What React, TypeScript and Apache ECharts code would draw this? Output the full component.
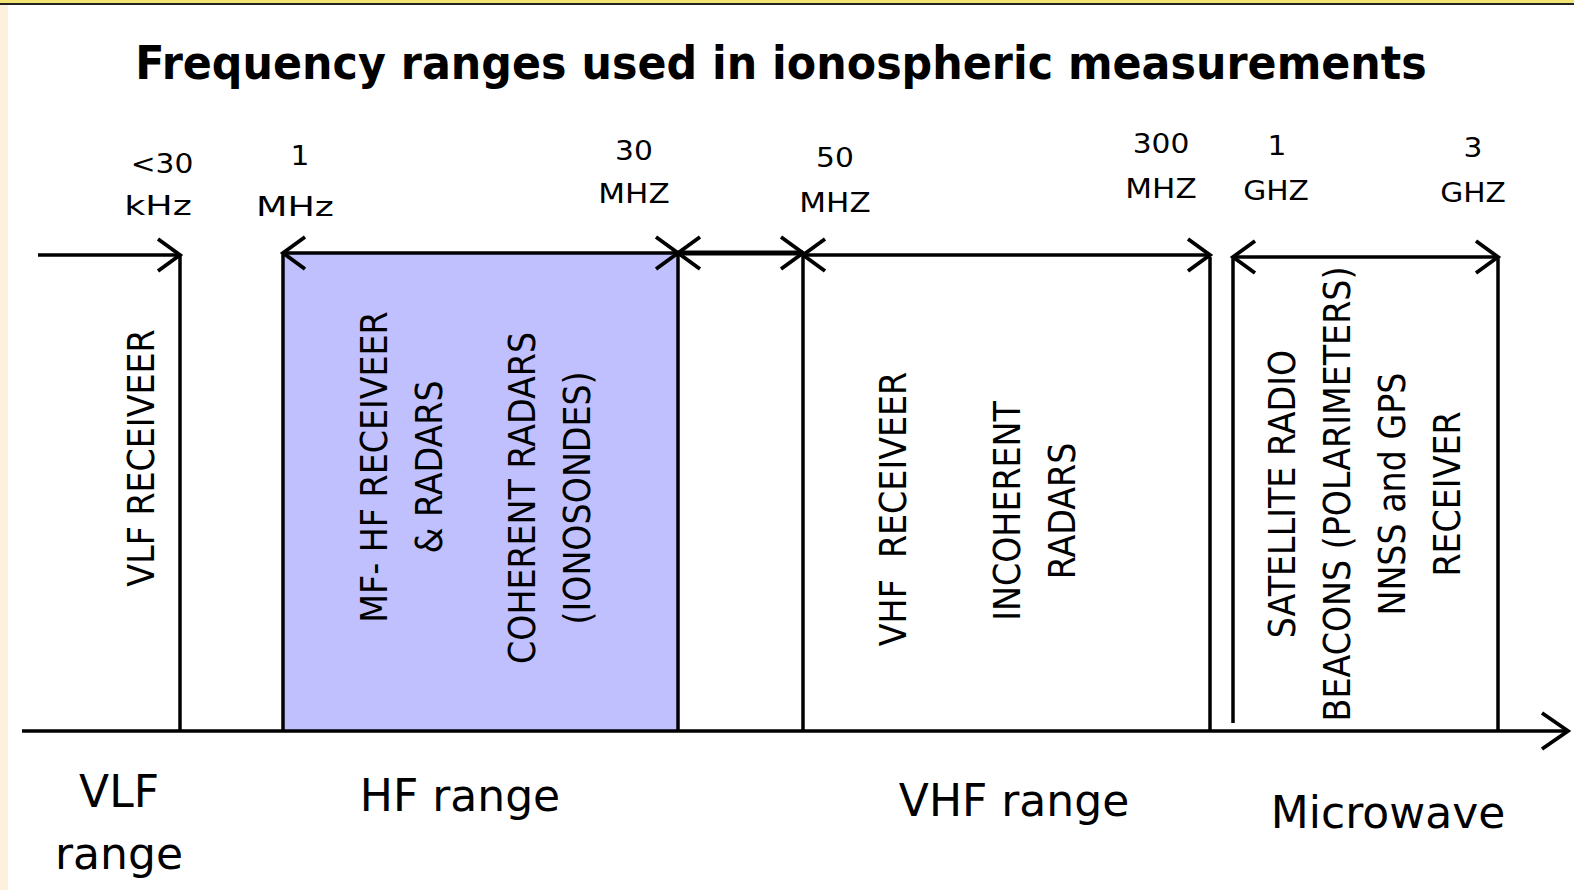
import React, { useEffect, useRef } from "react";
import * as echarts from "echarts";

const W = 1574;
const H = 890;

// ---- data: frequency markers on the (schematic) frequency axis ----
const markerValues = ["<30", "1", "30", "50", "300", "1", "3"];
const markerUnits = ["kHz", "MHz", "MHZ", "MHZ", "MHZ", "GHZ", "GHZ"];
const markerPos = [180, 283, 678, 803, 1210, 1233, 1498];

// ---- data: measurement spans (arrows between markers) ----
const spanStart = [38, 283, 678, 803, 1233];
const spanEnd = [180, 678, 803, 1210, 1498];
const spanStartHead = [false, true, true, true, true];
const spanEndHead = [true, true, true, true, true];

// ---- data: highlighted band ----
const bandStart = [283];
const bandEnd = [678];

// ---- data: instrument descriptions (vertical texts) ----
const instrumentTexts = [
  "VLF RECEIVEER",
  "MF- HF RECEIVEER\n& RADARS",
  "COHERENT RADARS\n(IONOSONDES)",
  "VHF  RECEIVEER",
  "INCOHERENT\nRADARS",
  "SATELLITE RADIO\nBEACONS (POLARIMETERS)\nNNSS and GPS\nRECEIVER",
];

// ---- data: range names ----
const rangeLabels = ["VLF\nrange", "HF range", "VHF range", "Microwave"];

const titleText = "Frequency ranges used in ionospheric measurements";

// ---- layout (positions / sizes) ----
const AXIS_Y = 731;
const AXIS_X0 = 22;
const AXIS_X1 = 1568;
const BAND_TOP = 253;
const HEAD_L = 22;
const HEAD_W = 16;
const LINE_W = 3.5;
const spanY = [255, 253, 253, 255, 257];
const spanWidth = [3.5, 3.5, 5, 3.5, 3.5];
const markerTop = [255, 253, 253, 253, 257, 257, 257];
const markerBottom = [731, 731, 731, 731, 731, 723, 731];
const valueXY = [
  [162, 164],
  [300, 156],
  [634, 151],
  [835, 158],
  [1161, 144],
  [1277, 146],
  [1473, 148],
];
const unitXY = [
  [158, 206],
  [295, 207],
  [634, 194],
  [835, 203],
  [1161, 189],
  [1276, 191],
  [1473, 193],
];
const unitScale = [1.35, 1.35, 1.15, 1.15, 1.15, 1.1, 1.1];
const instrumentXY = [
  [141, 458],
  [401, 467],
  [549, 498],
  [893, 509],
  [1034, 511],
  [1364, 494],
];
const rangeXY = [
  [119, 822],
  [460, 795],
  [1014, 800],
  [1388, 812],
];

const FONT = "'DejaVu Sans', 'Noto Sans', sans-serif";
const INK = "#000000";

function txt(
  text: string,
  x: number,
  y: number,
  size: number,
  extra: any = {},
  styleExtra: any = {}
) {
  return {
    type: "text",
    x,
    y,
    z: 100,
    silent: true,
    ...extra,
    style: {
      text,
      fill: INK,
      fontSize: size,
      fontFamily: FONT,
      align: "center",
      textAlign: "center",
      verticalAlign: "middle",
      textVerticalAlign: "middle",
      ...styleExtra,
    },
  };
}

export default function App() {
  const ref = useRef<HTMLDivElement>(null);

  useEffect(() => {
    if (!ref.current) return;
    document.body.style.margin = "0";
    const chart = echarts.init(ref.current, undefined, { renderer: "svg" });

    const graphics: any[] = [];
    // frame decorations
    graphics.push({
      type: "rect",
      silent: true,
      z: -10,
      shape: { x: 0, y: 0, width: 8, height: H },
      style: { fill: "#FCF1DC" },
    });
    graphics.push({
      type: "rect",
      silent: true,
      z: -10,
      shape: { x: 0, y: 0, width: W, height: 3 },
      style: { fill: "#F3E474" },
    });
    graphics.push({
      type: "rect",
      silent: true,
      z: -10,
      shape: { x: 0, y: 3, width: W, height: 2 },
      style: { fill: "#222222" },
    });

    // title
    graphics.push(txt(titleText, 781, 63, 42, { scaleX: 1.02, scaleY: 1.08 }, { fontWeight: "bold" }));

    // marker labels
    markerValues.forEach((v, i) => {
      graphics.push(txt(v, valueXY[i][0], valueXY[i][1], 27, { scaleX: 1.1 }));
      graphics.push(
        txt(markerUnits[i], unitXY[i][0], unitXY[i][1], 27, { scaleX: unitScale[i] })
      );
    });

    // vertical instrument texts
    instrumentTexts.forEach((t, i) => {
      graphics.push(
        txt(
          t,
          instrumentXY[i][0],
          instrumentXY[i][1],
          37,
          { rotation: Math.PI / 2, scaleX: 0.9 },
          { lineHeight: 55 }
        )
      );
    });

    // range labels
    rangeLabels.forEach((t, i) => {
      graphics.push(txt(t, rangeXY[i][0], rangeXY[i][1], 44, {}, { lineHeight: 62 }));
    });

    const option: any = {
      animation: false,
      backgroundColor: "#ffffff",
      grid: { left: 0, right: 0, top: 0, bottom: 0, containLabel: false },
      xAxis: { type: "value", min: 0, max: W, show: false },
      yAxis: { type: "value", min: 0, max: H, inverse: true, show: false },
      tooltip: { show: false },
      graphic: { elements: graphics, z: 100 },
      series: [
        {
          type: "custom",
          name: "HF band",
          silent: true,
          z: 1,
          data: bandStart.map((s, i) => [s, bandEnd[i]]),
          renderItem: (params: any, api: any) => {
            const a = api.coord([api.value(0), BAND_TOP]);
            const b = api.coord([api.value(1), AXIS_Y]);
            return {
              type: "rect",
              shape: { x: a[0], y: a[1], width: b[0] - a[0], height: b[1] - a[1] },
              style: { fill: "#C0C0FF" },
            };
          },
        },
        {
          type: "custom",
          name: "markers",
          silent: true,
          z: 3,
          data: markerPos.map((x, i) => [x, markerTop[i], markerBottom[i]]),
          renderItem: (params: any, api: any) => {
            const a = api.coord([api.value(0), api.value(1)]);
            const b = api.coord([api.value(0), api.value(2)]);
            return {
              type: "line",
              shape: { x1: a[0], y1: a[1], x2: b[0], y2: b[1] },
              style: { stroke: INK, lineWidth: LINE_W },
            };
          },
        },
        {
          type: "custom",
          name: "spans",
          silent: true,
          z: 4,
          data: spanStart.map((s, i) => [s, spanEnd[i], spanY[i]]),
          renderItem: (params: any, api: any) => {
            const i = params.dataIndex;
            const a = api.coord([api.value(0), api.value(2)]);
            const b = api.coord([api.value(1), api.value(2)]);
            const lw = spanWidth[i];
            const children: any[] = [
              {
                type: "line",
                shape: { x1: a[0], y1: a[1], x2: b[0], y2: b[1] },
                style: { stroke: INK, lineWidth: lw },
              },
            ];
            if (spanStartHead[i]) {
              children.push({
                type: "polyline",
                shape: {
                  points: [
                    [a[0] + HEAD_L, a[1] - HEAD_W],
                    [a[0], a[1]],
                    [a[0] + HEAD_L, a[1] + HEAD_W],
                  ],
                },
                style: { stroke: INK, lineWidth: 3.8, fill: "none" },
              });
            }
            if (spanEndHead[i]) {
              children.push({
                type: "polyline",
                shape: {
                  points: [
                    [b[0] - HEAD_L, b[1] - HEAD_W],
                    [b[0], b[1]],
                    [b[0] - HEAD_L, b[1] + HEAD_W],
                  ],
                },
                style: { stroke: INK, lineWidth: 3.8, fill: "none" },
              });
            }
            return { type: "group", children };
          },
        },
        {
          type: "custom",
          name: "frequency axis",
          silent: true,
          z: 5,
          data: [[AXIS_X0, AXIS_X1, AXIS_Y]],
          renderItem: (params: any, api: any) => {
            const a = api.coord([api.value(0), api.value(2)]);
            const b = api.coord([api.value(1), api.value(2)]);
            return {
              type: "group",
              children: [
                {
                  type: "line",
                  shape: { x1: a[0], y1: a[1], x2: b[0], y2: b[1] },
                  style: { stroke: INK, lineWidth: LINE_W },
                },
                {
                  type: "polyline",
                  shape: {
                    points: [
                      [b[0] - 26, b[1] - 18],
                      [b[0], b[1]],
                      [b[0] - 26, b[1] + 18],
                    ],
                  },
                  style: { stroke: INK, lineWidth: 3.8, fill: "none" },
                },
              ],
            };
          },
        },
      ],
    };

    chart.setOption(option);
    return () => {
      chart.dispose();
    };
  }, []);

  return (
    <div
      ref={ref}
      style={{ position: "fixed", left: 0, top: 0, width: W, height: H, background: "#fff" }}
    />
  );
}
